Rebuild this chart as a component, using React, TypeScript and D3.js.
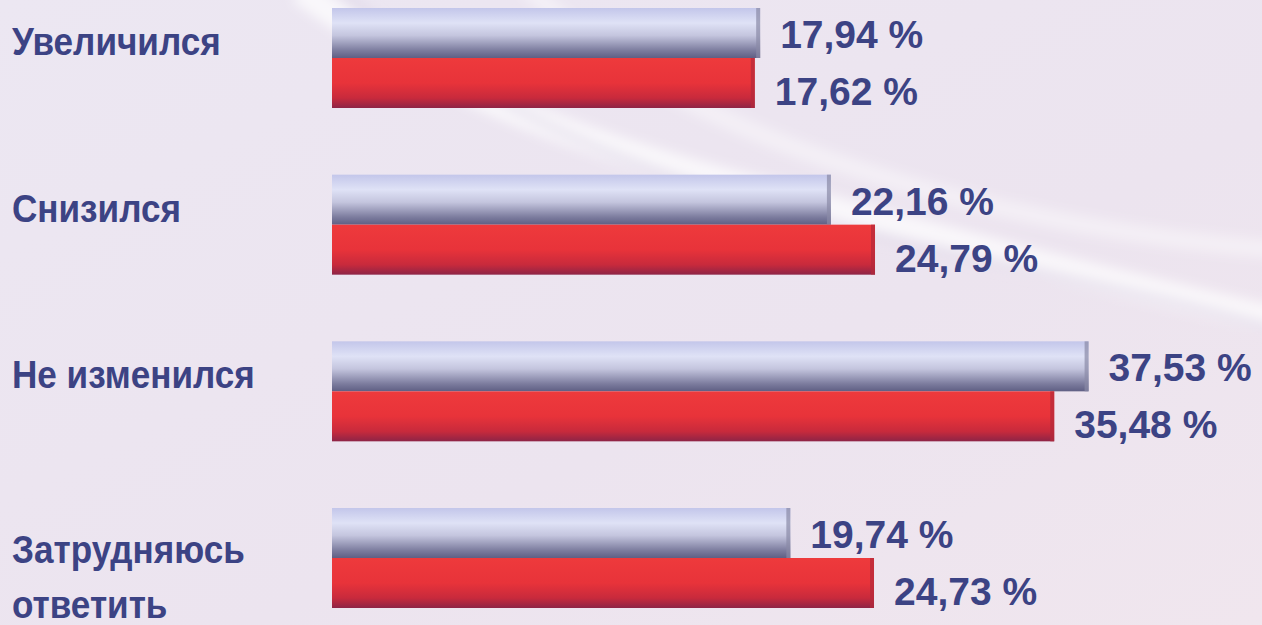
import * as d3 from 'd3';

const categories = ['Увеличился', 'Снизился', 'Не изменился', 'Затрудняюсь ответить'];
const seriesKeys = ['grey', 'red'];
const greyValues = [17.94, 22.16, 37.53, 19.74];
const redValues = [17.62, 24.79, 35.48, 24.73];

const W = 1262;
const H = 625;
const TEXT = '#3c4384';
const FONT = '"Liberation Sans", Arial, sans-serif';

const fmt = (v: number) => v.toFixed(2).replace('.', ',') + ' %';

const App = () => {
    // bars in the source are not drawn to a zero base, so the domain starts below 0
    const x = d3.scaleLinear().domain([-7.6, 40]).range([332, 1130]);
    const y = d3.scaleBand().domain(categories).range([8, 608]).paddingInner(0.4);
    const inner = d3.scaleBand().domain(seriesKeys).range([0, y.bandwidth()]);

    const rows = categories.map((c, i) => ({ cat: c, values: [greyValues[i], redValues[i]] }));

    return (
        <svg width={W} height={H} style={{ position: 'fixed', left: 0, top: 0, display: 'block' }}>
            <defs>
                <linearGradient id="bg" x1="0" y1="0" x2="1" y2="1">
                    <stop offset="0" stopColor="#ece7f2" />
                    <stop offset="0.6" stopColor="#ece4ef" />
                    <stop offset="1" stopColor="#f0e6ee" />
                </linearGradient>
                <linearGradient id="greyGrad" x1="0" y1="0" x2="0" y2="1">
                    <stop offset="0" stopColor="#c3c6ea" />
                    <stop offset="0.3" stopColor="#dfe2f6" />
                    <stop offset="0.55" stopColor="#c4c5de" />
                    <stop offset="0.85" stopColor="#7c7c9e" />
                    <stop offset="1" stopColor="#5f5f84" />
                </linearGradient>
                <linearGradient id="redGrad" x1="0" y1="0" x2="0" y2="1">
                    <stop offset="0" stopColor="#ee3a3c" />
                    <stop offset="0.5" stopColor="#e8333a" />
                    <stop offset="0.8" stopColor="#c82a3c" />
                    <stop offset="1" stopColor="#8e2446" />
                </linearGradient>
                <filter id="blur" x="-10%" y="-10%" width="120%" height="120%">
                    <feGaussianBlur stdDeviation="6" />
                </filter>
            </defs>
            <rect width={W} height={H} fill="url(#bg)" />
            <g filter="url(#blur)" fill="none">
                <path d="M300,-10 C420,80 560,140 760,190 C950,240 1100,280 1280,320" stroke="#ffffff" strokeOpacity={0.7} strokeWidth={26} />
                <path d="M520,-20 C600,60 700,120 860,170 C1000,215 1150,240 1280,250" stroke="#ffffff" strokeOpacity={0.4} strokeWidth={18} />
                <path d="M340,-10 C480,110 640,180 900,240 C1050,275 1180,300 1280,330" stroke="#d8d0e4" strokeOpacity={0.5} strokeWidth={8} />
            </g>
            {rows.map(r => {
                const y0 = y(r.cat)!;
                const lines = r.cat === 'Затрудняюсь ответить' ? ['Затрудняюсь', 'ответить'] : [r.cat];
                const cy = y0 + y.bandwidth() / 2;
                return (
                    <g key={r.cat}>
                        <text transform={`translate(12,${lines.length > 1 ? cy + 5 : cy - 3}) scale(0.9,1)`}
                            fill={TEXT} fontFamily={FONT} fontWeight="bold" fontSize={39}>
                            {lines.map((l, j) => (
                                <tspan key={l} x={0} dy={j === 0 ? 0 : 55}>{l}</tspan>
                            ))}
                        </text>
                        {seriesKeys.map((k, j) => {
                            const v = r.values[j];
                            const by = y0 + inner(k)!;
                            const bh = inner.bandwidth();
                            const bx = x.range()[0];
                            const bw = x(v) - bx;
                            return (
                                <g key={k}>
                                    <rect x={bx} y={by} width={bw} height={bh}
                                        fill={k === 'grey' ? 'url(#greyGrad)' : 'url(#redGrad)'} />
                                    <rect x={bx + bw - 4} y={by} width={4} height={bh}
                                        fill={k === 'grey' ? '#8a8aa6' : '#b42a3a'} opacity={0.7} />
                                    <text x={x(v) + 20} y={by + bh / 2 + (k === 'grey' ? 15 : 22)} fill={TEXT}
                                        fontFamily={FONT} fontWeight="bold" fontSize={39}>
                                        {fmt(v)}
                                    </text>
                                </g>
                            );
                        })}
                    </g>
                );
            })}
        </svg>
    );
};

export default App;
